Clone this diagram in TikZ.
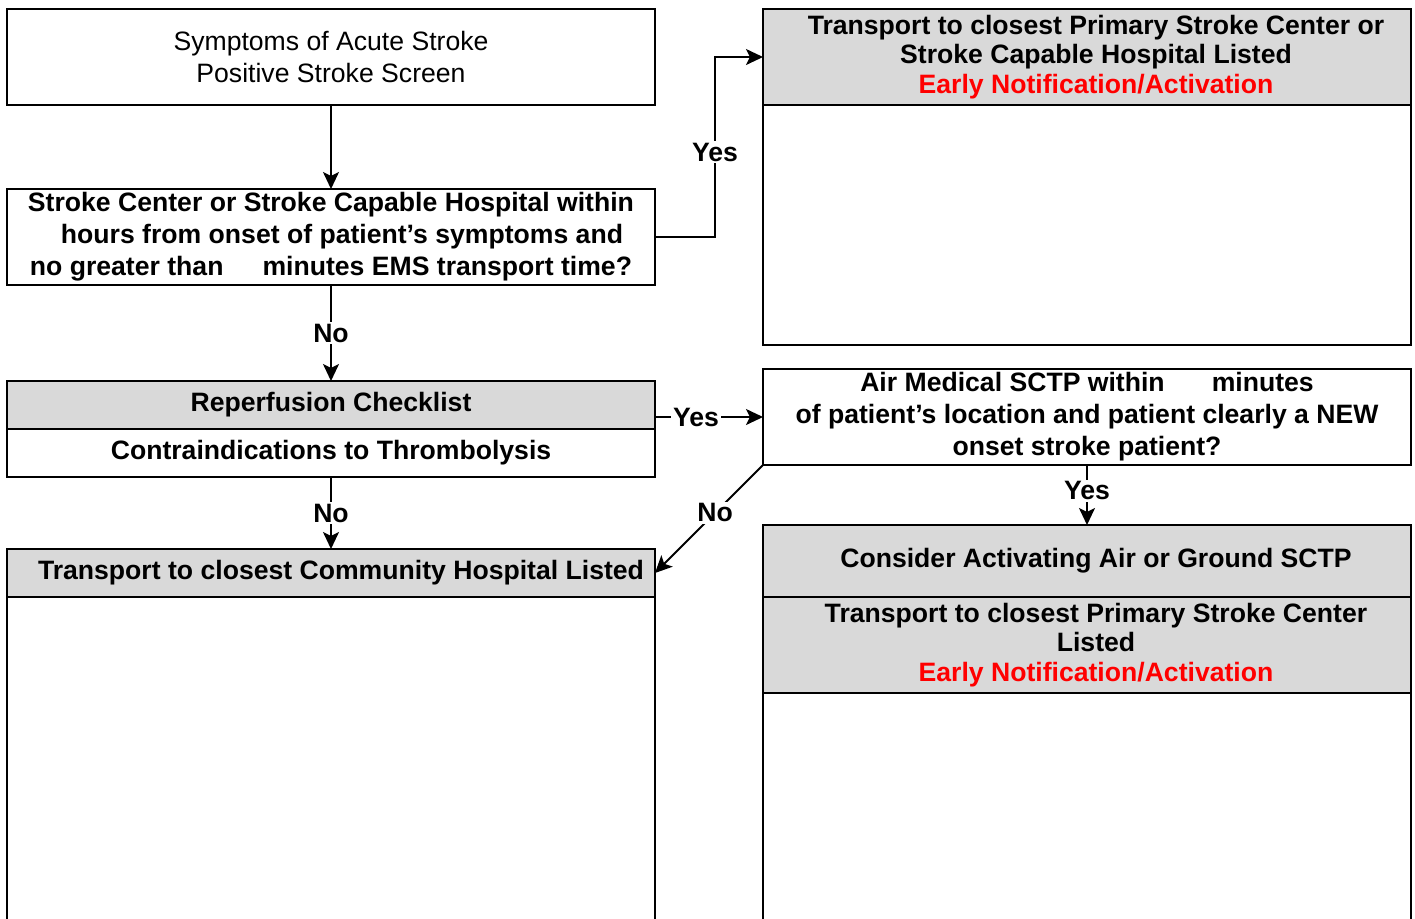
\documentclass[tikz,border=0pt]{standalone}
\usepackage{fontspec}
\setmainfont{Liberation Sans}
\usetikzlibrary{arrows.meta, positioning}
\definecolor{headgray}{HTML}{D9D9D9}
\definecolor{alertred}{HTML}{FF0000}

\begin{document}
\begin{tikzpicture}[
  x=0.5pt, y=-0.5pt,
  box/.style={rectangle, draw, line width=1pt, inner sep=0pt, outer sep=0pt, minimum width=324pt, align=center},
  plainbox/.style={box, fill=white, font=\fontsize{13.3}{16}\selectfont\bfseries},
  headbox/.style={box, fill=headgray, font=\fontsize{13.3}{14.75}\selectfont\bfseries},
  hdtext/.style={align=center, inner sep=0pt, font=\fontsize{13.3}{14.75}\selectfont\bfseries},
  arrow/.style={-{Stealth[length=8.5pt, width=8pt, inset=2pt]}, line width=1pt},
  lbl/.style={fill=white, inner sep=1pt, font=\fontsize{13.3}{16}\selectfont\bfseries}
]
  \useasboundingbox (0,0) rectangle (1415,918);
  \clip (0,0) rectangle (1415,918);

  % Left column
  \node[box, anchor=north west, minimum height=48pt, font=\fontsize{13.3}{16}\selectfont] (sym) at (7,9)
    {Symptoms of Acute Stroke\\Positive Stroke Screen};
  \node[plainbox, anchor=north west, minimum height=48pt] (q1) at (7,189)
    {Stroke Center or Stroke Capable Hospital within\\
     \hspace*{11pt}hours from onset of patient’s symptoms and\\
     no greater than\hspace*{19.5pt}minutes EMS transport time?};
  \node[headbox, anchor=north west, minimum height=24pt] (rep) at (7,381) {Reperfusion Checklist};
  \node[plainbox, below=0pt of rep, minimum height=24pt] (contra) {Contraindications to Thrombolysis};
  \node[headbox, anchor=north west, minimum height=24pt] (comm) at (7,549) {};
  \node[hdtext] (commtxt) at ([xshift=5pt]comm.center) {Transport to closest Community Hospital Listed};
  \node[box, below=0pt of comm, minimum height=164pt] (commbody) {};

  % Right column
  \node[headbox, anchor=north west, minimum height=48pt] (psc) at (763,9) {};
  \node[hdtext] (psctxt) at ([xshift=4.5pt]psc.center)
    {Transport to closest Primary Stroke Center or\\
     Stroke Capable Hospital Listed\\
     \textcolor{alertred}{Early Notification/Activation}};
  \node[box, below=0pt of psc, minimum height=120pt] (pscbody) {};
  \node[plainbox, anchor=north west, minimum height=48pt] (air) at (763,369)
    {Air Medical SCTP within\hspace*{23.5pt}minutes\\
     of patient’s location and patient clearly a NEW\\
     onset stroke patient?};
  \node[headbox, anchor=north west, minimum height=36pt] (cons) at (763,525) {};
  \node[hdtext] (constxt) at ([xshift=4.5pt]cons.center) {Consider Activating Air or Ground SCTP};
  \node[headbox, below=0pt of cons, minimum height=48pt] (sctp) {};
  \node[hdtext] (sctptxt) at ([xshift=4.5pt]sctp.center)
    {Transport to closest Primary Stroke Center\\
     Listed\\
     \textcolor{alertred}{Early Notification/Activation}};
  \node[box, below=0pt of sctp, minimum height=116pt] (consbody) {};

  % Connectors
  \draw[arrow] (sym) -- (q1);
  \draw[arrow] (q1.east) -- ++(60,0) |- node[lbl, pos=0.236] {Yes} (psc.west);
  \draw[arrow] (q1) -- node[lbl] {No} (rep);
  \draw[arrow] (contra) -- node[lbl] {No} (comm);
  \draw[arrow] (rep.east |- air.west) -- node[lbl, pos=0.38] {Yes} (air.west);
  \draw[arrow] (air.south west) -- node[lbl, pos=0.444] {No} (comm.east);
  \draw[arrow] (air) -- node[lbl, pos=0.43] {Yes} (cons);
\end{tikzpicture}
\end{document}
